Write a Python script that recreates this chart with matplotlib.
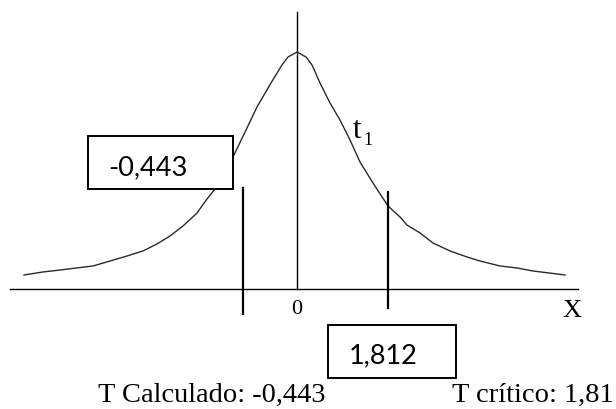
import matplotlib.pyplot as plt
from matplotlib.patches import Rectangle

plt.rcParams.update({
    "font.family": "Liberation Serif",
    "savefig.facecolor": "white",
})

# curva de densidade (esboço, eixo em unidades livres)
curve_x = [-5.46, -5.08, -4.74, -4.08, -3.74, -3.40, -3.08, -2.80, -2.54, -2.28,
           -2.00, -1.80, -1.64, -1.28, -1.00, -0.80, -0.52, -0.30, -0.18, 0.00,
           0.18, 0.30, 0.46, 0.66, 0.86, 1.06, 1.26, 1.52, 1.82, 2.06,
           2.20, 2.46, 2.72, 3.06, 3.40, 3.66, 4.06, 4.40, 4.72, 5.36]
curve_y = [0.0187, 0.0227, 0.0253, 0.0307, 0.0373, 0.0440, 0.0507, 0.0600, 0.0707, 0.0840,
           0.1013, 0.1200, 0.1333, 0.1760, 0.2147, 0.2427, 0.2747, 0.2987, 0.3093, 0.3160,
           0.3093, 0.2987, 0.2747, 0.2480, 0.2253, 0.1987, 0.1693, 0.1413, 0.1107, 0.0960,
           0.0853, 0.0747, 0.0613, 0.0507, 0.0427, 0.0373, 0.0307, 0.0280, 0.0240, 0.0187]

t_calc = -0.443
t_crit = 1.812
t_calc_txt = "-0,443"
t_crit_txt = "1,812"
cut_lines = [-1.08, t_crit]

fig = plt.figure(figsize=(6.16, 4.09), dpi=100)
ax = fig.add_axes([0, 0, 1, 1])
ax.set_xlim(-5.94, 6.38)
ax.set_ylim(-0.16, 0.3853)
ax.axis("off")

# eixos
ax.plot([-5.74, 5.62], [0, 0], color="black", lw=1.0)
ax.plot([0, 0], [0, 0.369], color="black", lw=1.0)

ax.plot(curve_x, curve_y, color="#2a2a2a", lw=1.0, zorder=2)

# linhas de corte
ax.plot([cut_lines[0]] * 2, [-0.0333, 0.1347], color="black", lw=1.6)
ax.plot([cut_lines[1]] * 2, [-0.0253, 0.1293], color="black", lw=1.6)

# caixas com os valores
ax.add_patch(Rectangle((-4.18, 0.1333), 2.90, 0.0707, facecolor="white",
                       edgecolor="black", lw=1.4, zorder=3))
ax.text(-3.78, 0.152, t_calc_txt, family="Lato", fontsize=19.5, zorder=4)
ax.add_patch(Rectangle((0.62, -0.1187), 2.56, 0.0707, facecolor="white",
                       edgecolor="black", lw=1.4, zorder=3))
ax.text(1.04, -0.0987, t_crit_txt, family="Lato", fontsize=19.5, zorder=4)

ax.text(0, -0.0333, "0", fontsize=16, ha="center")
ax.text(5.50, -0.0373, "X", fontsize=19, ha="center")
ax.text(1.12, 0.2013, "t", fontsize=22)
ax.text(1.33, 0.192, "1", fontsize=13)

ax.text(-3.98, -0.1507, "T Calculado: " + t_calc_txt, fontsize=20.5)
ax.text(3.10, -0.1507, "T crítico: 1,81", fontsize=20.5)

fig.savefig("out.png", dpi=100)
